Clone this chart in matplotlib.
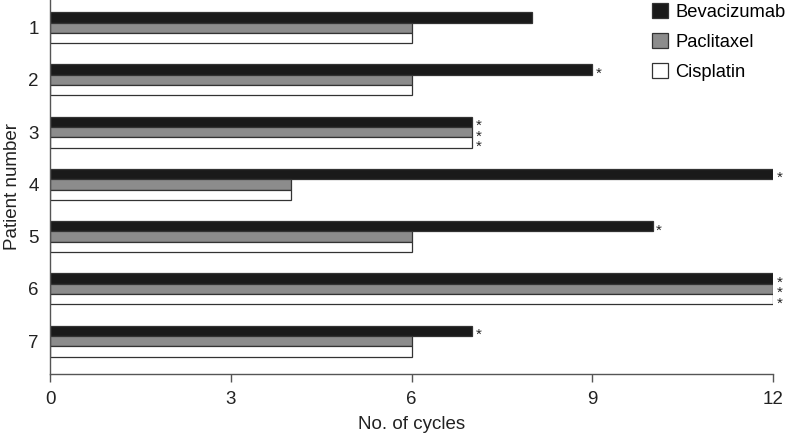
import matplotlib
matplotlib.use("Agg")
import matplotlib.pyplot as plt
import numpy as np

plt.rcParams['font.family'] = ['Liberation Sans', 'DejaVu Sans']

patients = ["1", "2", "3", "4", "5", "6", "7"]
bevacizumab = [8, 9, 7, 12, 10, 12, 7]
paclitaxel = [6, 6, 7, 4, 6, 12, 6]
cisplatin = [6, 6, 7, 4, 6, 12, 6]
bev_star = [False, True, True, True, True, True, True]
pac_star = [False, False, True, False, False, True, False]
cis_star = [False, False, True, False, False, True, False]
xticks = [0, 3, 6, 9, 12]

fig = plt.figure(figsize=(7.88, 4.41), dpi=100)
ax = fig.add_axes([50/788, (441-374)/441, (773-50)/788, 374/441 - 0.0])

y = np.arange(1, len(patients) + 1)
h = 0.197
series = [
    (bevacizumab, bev_star, "#1a1a1a", "Bevacizumab", -h),
    (paclitaxel, pac_star, "#8c8c8c", "Paclitaxel", 0.0),
    (cisplatin, cis_star, "#ffffff", "Cisplatin", h),
]
handles = []
for vals, stars, col, lab, off in series:
    b = ax.barh(y + off, vals, height=h, color=col, edgecolor="#333333",
                linewidth=0.9, label=lab)
    handles.append(b)
    for yi, v, s in zip(y, vals, stars):
        if s:
            ax.text(v + 0.06, yi + off + 0.08, "*", fontsize=11, ha="left",
                    va="center", color="#222222")

ax.set_ylim(7.63, 0.47)
ax.set_xlim(0, 12)
ax.set_xticks(xticks)
ax.set_xticklabels([str(t) for t in xticks], fontsize=13.5, color="#222222")
ax.set_yticks(y)
ax.set_yticklabels(patients, fontsize=13.5, color="#222222")
ax.tick_params(axis="y", length=0, pad=8)
ax.tick_params(axis="x", direction="out", length=6, width=1, color="#555555", pad=6)
for s in ["top", "right"]:
    ax.spines[s].set_visible(False)
for s in ["left", "bottom"]:
    ax.spines[s].set_color("#555555")
    ax.spines[s].set_linewidth(1.0)
ax.spines["bottom"].set_bounds(0, 12)

ax.set_xlabel("No. of cycles", fontsize=13.5, color="#222222", labelpad=6)
ax.set_ylabel("Patient number", fontsize=13.5, color="#222222", labelpad=5)

fig.legend(handles=handles, labels=["Bevacizumab", "Paclitaxel", "Cisplatin"],
           loc="upper left", bbox_to_anchor=(645/788, 1.01), frameon=False,
           fontsize=13.2, handlelength=0.85, handleheight=0.85,
           labelspacing=0.68, handletextpad=0.4, borderaxespad=0.0)

fig.savefig("out.png", dpi=100)
